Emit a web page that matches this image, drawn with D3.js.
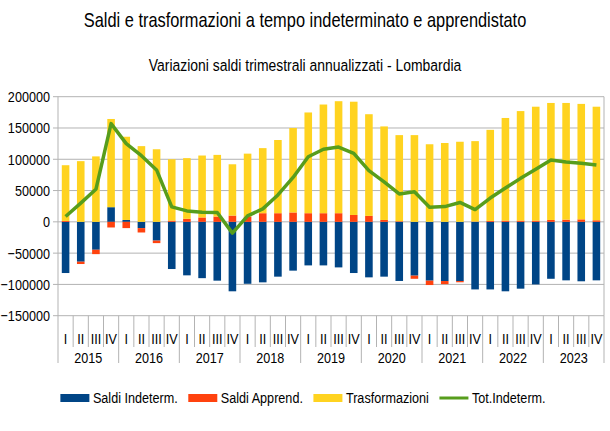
<!DOCTYPE html>
<html><head><meta charset="utf-8">
<script src="https://cdn.jsdelivr.net/npm/d3@7"></script>
<style>
html,body{margin:0;padding:0;background:#fff;}
text{font-family:"Liberation Sans",Arial,sans-serif;fill:#000;}
</style></head>
<body><svg id="c" width="610" height="431"></svg>
<script>
const years = ["2015","2016","2017","2018","2019","2020","2021","2022","2023"];
const quarters = ["I","II","III","IV"];
const seriesNames = ["Saldi Indeterm.","Saldi Apprend.","Trasformazioni"];
const lineName = "Tot.Indeterm.";
const saldiIndeterm = [-81800,-63700,-44600,23400,3000,-10000,-30000,-75400,-85500,-90000,-94000,-111000,-99000,-96700,-87600,-78000,-69600,-69600,-72800,-81800,-88700,-87600,-94500,-86000,-94000,-94600,-94600,-108000,-108000,-111000,-106800,-100000,-91000,-93500,-95000,-93500];
const saldiApprend = [1500,-3700,-7000,-9000,-10000,-7000,-4000,2000,4800,7000,8500,10000,8500,13800,13800,15000,13800,13800,13800,11000,9500,3000,1000,-5000,-7000,-5000,-2000,500,1500,2000,2000,2000,3000,3500,4000,2500];
const trasformazioni = [89000,97000,104600,141000,133000,121000,116000,98000,97000,99000,98500,82000,100500,104000,117000,135000,161000,173700,179000,181000,162500,149500,137600,138600,124000,126000,128000,128500,145500,164000,175000,182000,187000,186500,184500,181500];
const totIndeterm = [8500,30000,52000,157000,125000,105700,83000,24000,17500,15400,14800,-18000,9600,20700,43000,71000,104000,116000,119500,109500,82000,64000,44600,48000,23400,24400,31000,19600,38000,54000,69500,84000,98800,95600,93500,90800];
const yTicks = [-150000,-100000,-50000,0,50000,100000,150000,200000];
const colors = ["#004586","#ff420e","#ffd320"];
const lineColor = "#579d1c";

const cats = [];
years.forEach(y => quarters.forEach(q => cats.push(y + "-" + q)));
const rows = cats.map((c,i) => ({cat:c, a:saldiIndeterm[i], b:saldiApprend[i], c2:trasformazioni[i], t:totIndeterm[i]}));

const svg = d3.select("#c");
const L = 58, R = 604, T = 96.7, B = 315.7;
const x = d3.scaleBand().domain(cats).range([L,R]).paddingInner(0.5).paddingOuter(0.25);
const y = d3.scaleLinear().domain([-150000,200000]).range([B,T]);
const gridCol = "#b3b3b3";
const SX = 0.82; // narrow font emulation

function txt(parent, tx, ty, str, size, anchor){
  return parent.append("text").attr("transform",`translate(${tx},${ty}) scale(${SX},1)`)
    .attr("text-anchor",anchor||"start").style("font-size",size+"px").text(str);
}

// title
txt(svg,305,27,"Saldi e trasformazioni a tempo indeterminato e apprendistato",20,"middle");
txt(svg,305,71,"Variazioni saldi trimestrali annualizzati - Lombardia",17,"middle");

// y grid
const fmt = d3.format("d");
const gy = svg.append("g");
yTicks.forEach(v => {
  gy.append("line").attr("x1",L-5).attr("x2",R).attr("y1",y(v)).attr("y2",y(v)).attr("stroke",gridCol);
  txt(gy, L-8, y(v)+5.5, fmt(v), 15.4, "end");
});
svg.append("line").attr("x1",L).attr("x2",L).attr("y1",T).attr("y2",B).attr("stroke",gridCol);
svg.append("line").attr("x1",R).attr("x2",R).attr("y1",T).attr("y2",B).attr("stroke",gridCol);

// category axis ticks
const step = x.step();
d3.range(cats.length+1).forEach(k => {
  const xx = L + k*step;
  svg.append("line").attr("x1",xx).attr("x2",xx).attr("y1",B).attr("y2",k%4===0?363:347).attr("stroke",gridCol);
});
const gq = svg.append("g");
cats.forEach(d => txt(gq, x(d)+x.bandwidth()/2, 344, d.split("-")[1], 15.4, "middle"));
const gyr = svg.append("g");
years.forEach((d,i) => txt(gyr, L + (i*4+2)*step, 363, d, 15.4, "middle"));

// stacked bars
const stack = d3.stack().keys(["a","b","c2"]).offset(d3.stackOffsetDiverging);
const stacked = stack(rows);
svg.append("g").selectAll("g").data(stacked).join("g").attr("fill",(d,i)=>colors[i])
  .selectAll("rect").data(d=>d).join("rect")
  .attr("x",d=>x(d.data.cat)).attr("width",x.bandwidth())
  .attr("y",d=>y(Math.max(d[0],d[1]))).attr("height",d=>Math.abs(y(d[0])-y(d[1])));

// line
const line = d3.line().x(d=>x(d.cat)+x.bandwidth()/2).y(d=>y(d.t));
svg.append("path").datum(rows).attr("d",line).attr("fill","none").attr("stroke",lineColor).attr("stroke-width",3.5).attr("stroke-linejoin","round");

// legend
const items = seriesNames.map((n,i)=>({name:n,color:colors[i],type:"rect"})).concat([{name:lineName,color:lineColor,type:"line"}]);
const lg = svg.append("g");
let cx = 0;
const sw = 29, gapT = 3.5, gapItem = 10.5;
items.forEach(it => {
  const g = lg.append("g").attr("transform",`translate(${cx},0)`);
  if (it.type==="rect") g.append("rect").attr("x",0).attr("y",394).attr("width",sw).attr("height",8).attr("fill",it.color);
  else g.append("line").attr("x1",0).attr("x2",sw).attr("y1",398).attr("y2",398).attr("stroke",it.color).attr("stroke-width",3);
  const t = txt(g, sw+gapT, 403.3, it.name, 15.4, "start");
  cx += sw + gapT + t.node().getComputedTextLength()*SX + gapItem;
});
const totalW = cx - gapItem;
lg.attr("transform",`translate(${303 - totalW/2},0)`);
</script></body></html>
